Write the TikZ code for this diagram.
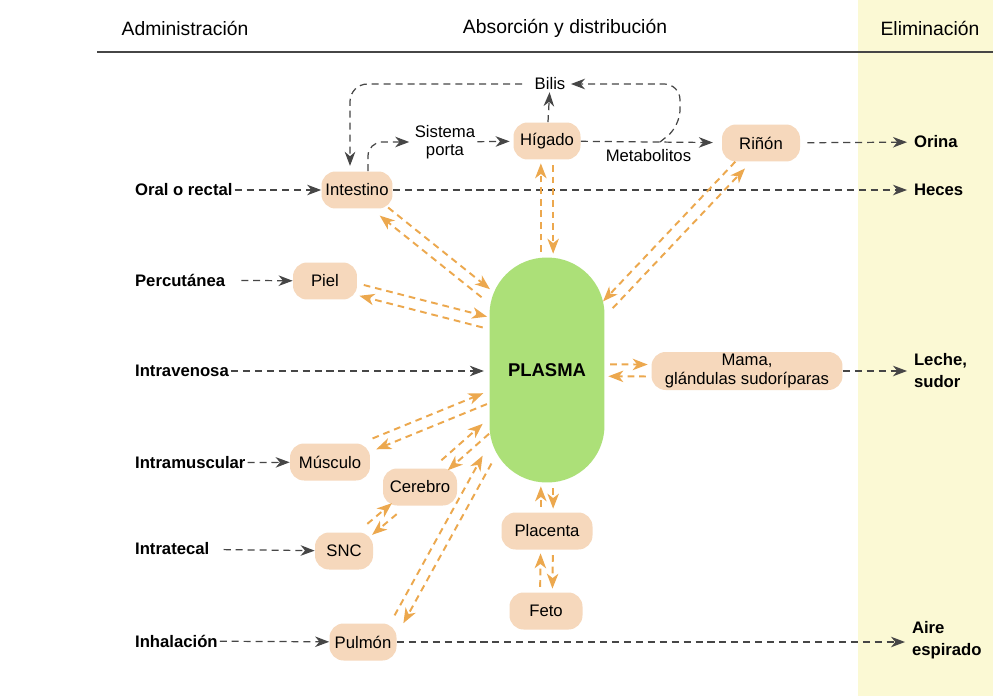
\documentclass[tikz,border=0pt]{standalone}
\usepackage{fontspec}
\setmainfont{Liberation Sans}
\usetikzlibrary{arrows.meta, calc}
\definecolor{organfill}{RGB}{246,216,188}
\definecolor{plasmafill}{RGB}{172,224,120}
\definecolor{flowline}{RGB}{236,168,78}
\definecolor{darkline}{RGB}{70,70,70}
\definecolor{elimfill}{RGB}{251,249,212}
\tikzset{
  organ/.style={rectangle, rounded corners=8pt, fill=organfill, minimum height=0.74cm, inner sep=1pt, text centered, align=center},
  plasma/.style={rectangle, rounded corners=1.14cm, fill=plasmafill, minimum width=2.3cm, minimum height=4.5cm, font=\fontsize{10.5}{12}\selectfont\bfseries},
  route/.style={anchor=west, inner sep=1pt, font=\fontsize{9.5}{11}\selectfont\bfseries},
  exit/.style={anchor=west, inner sep=1pt, outer sep=3pt, align=left, font=\fontsize{9.5}{12.5}\selectfont\bfseries},
  tag/.style={inner sep=1pt, align=center},
  heading/.style={font=\fontsize{11}{13}\selectfont},
  arrow/.style={draw=darkline, line width=0.7pt, dash pattern=on 4pt off 2.8pt, -{Stealth[length=8pt,width=6pt,inset=2.5pt]}},
  flow/.style={draw=flowline, line width=1.1pt, dash pattern=on 3.8pt off 2.8pt, -{Stealth[length=8.5pt,width=6.5pt,inset=2.5pt]}, shorten <=3pt, shorten >=2pt}
}
\newcommand{\flowpair}[4]{%
  \draw [flow, transform canvas={xshift=#3, yshift=#4}] (#1) -- (#2);
  \draw [flow, transform canvas={xshift={-1*(#3)}, yshift={-1*(#4)}}] (#2) -- (#1);
}

\begin{document}
\begin{tikzpicture}[x=0.02cm, y=-0.02cm, every node/.style={font=\fontsize{9.5}{10.5}\selectfont}]
\useasboundingbox (0,0) rectangle (993,696);
\fill[white] (0,0) rectangle (993,696);
\fill[elimfill] (858,0) rectangle (993,696);
\draw[darkline, line width=1.1pt] (97,52) -- (993,52);

% Headings
\node (hadmin) [heading] at (185,28) {Administración};
\node (habs) [heading] at (565,28) {Absorción y distribución};
\node (helim) [heading] at (930,28) {Eliminación};

% Nodes
\node (plasma) [plasma] at (547,370) {PLASMA};
\node (intestino) [organ, minimum width=1.42cm] at (357,190) {Intestino};
\node (higado) [organ, minimum width=1.34cm] at (547,141) {Hígado};
\node (rinon) [organ, minimum width=1.56cm] at (761,143) {Riñón};
\node (piel) [organ, minimum width=1.28cm] at (325,281) {Piel};
\node (mama) [organ, minimum width=3.82cm, minimum height=0.76cm] at (747,371) {Mama,\\glándulas sudoríparas};
\node (musculo) [organ, minimum width=1.6cm] at (330,462) {Músculo};
\node (cerebro) [organ, minimum width=1.48cm] at (420,487) {Cerebro};
\node (snc) [organ, minimum width=1.16cm] at (344,551) {SNC};
\node (pulmon) [organ, minimum width=1.34cm] at (363,642) {Pulmón};
\node (placenta) [organ, minimum width=1.82cm] at (547,531) {Placenta};
\node (feto) [organ, minimum width=1.46cm] at (546,611) {Feto};

\node (bilis) [tag] at (550,84) {Bilis};
\node (porta) [tag] at (445,142) {Sistema\\porta};

% Routes and exits
\node (oral) [route] at (133,190) {Oral o rectal};
\node (percut) [route] at (133,280) {Percutánea};
\node (intraven) [route] at (133,371) {Intravenosa};
\node (intramusc) [route] at (133,463) {Intramuscular};
\node (intratec) [route] at (133,549) {Intratecal};
\node (inhal) [route] at (133,641) {Inhalación};

\node (orina) [exit] at (907,142) {Orina};
\node (heces) [exit] at (907,190) {Heces};
\node (leche) [exit] at (907,371) {Leche,\\sudor};
\node (aire) [exit] at (905,640) {Aire\\espirado};

\coordinate (split) at (660,142);

% Arrows
\draw [arrow] (oral) -- (intestino);
\draw [arrow] (intestino) -- (heces);
\draw [arrow, shorten <=8pt] (percut) -- (piel);
\draw [arrow, shorten >=3pt] (intraven) -- (intraven -| plasma.west);
\draw [arrow] (intramusc) -- (musculo);
\draw [arrow, shorten <=7pt] (intratec) -- (snc);
\draw [arrow] (inhal) -- (pulmon);
\draw [arrow] (pulmon) -- (aire.west |- pulmon);
\draw [arrow] (mama) -- (leche);
\draw [arrow, shorten <=4pt] (rinon) -- (orina);
\draw [arrow, shorten >=5pt] (higado) -- node[tag, below=3pt, pos=0.48] (metab) {Metabolitos} (rinon);
\draw [arrow, shorten >=2pt] (porta) -- (higado);
\draw [arrow, rounded corners=8pt, shorten >=2pt] ([xshift=0.22cm]intestino.north) |- (porta);
\draw [arrow] (higado) -- (bilis);
\draw [arrow, rounded corners=10pt, shorten <=6pt, shorten >=3pt] (bilis) -| ([xshift=-0.14cm]intestino.north);
\draw [arrow, rounded corners=9pt, shorten >=2pt] (split) -- ++(20,-16) |- (bilis);

% Exchange with plasma
\flowpair{intestino}{plasma.128}{2pt}{2.6pt}
\flowpair{piel}{plasma.141}{0.75pt}{3.2pt}
\flowpair{higado}{plasma}{3.5pt}{0pt}
\flowpair{rinon}{plasma.47}{-2.4pt}{2.3pt}
\flowpair{plasma}{mama}{0pt}{3.4pt}
\flowpair{musculo}{plasma.205}{-1.5pt}{2.9pt}
\flowpair{cerebro}{plasma.224}{-2.2pt}{2.5pt}
\flowpair{snc}{cerebro}{-1.75pt}{2.8pt}
\flowpair{pulmon.north east}{plasma.236}{-2.75pt}{1.8pt}
\flowpair{placenta}{plasma}{-3.5pt}{0pt}
\flowpair{feto}{placenta}{-3.5pt}{0pt}
\end{tikzpicture}
\end{document}
